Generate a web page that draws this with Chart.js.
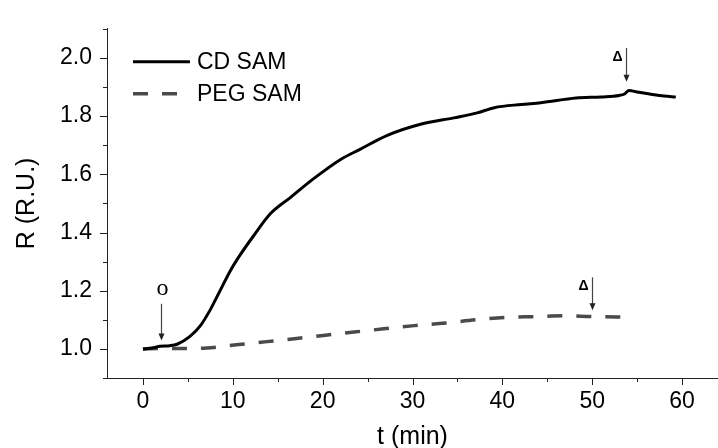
<!DOCTYPE html>
<html>
<head>
<meta charset="utf-8">
<script src="https://cdn.jsdelivr.net/npm/chart.js@4/dist/chart.umd.min.js"></script>
<style>
  html, body { margin: 0; padding: 0; background: #fff; }
  #wrap { width: 718px; height: 448px; position: relative; }
</style>
</head>
<body>
<div id="wrap"><canvas id="kineticsChart"></canvas></div>
<script>
// CD SAM trace (time in min, response in R.U.)
const cdTime = [0, 1, 1.9, 3, 3.8, 5.2, 6.4, 7.5, 8.6, 9.7, 10.8, 12.3, 14.2, 16.4, 19.0, 22.0, 24.1, 27.2, 30.9, 34.6, 37.2, 39.1, 42.1, 44.3, 48.2, 51.0, 53.0, 53.6, 54.1, 55.0, 56.4, 58.0, 59.3];
const cdSignal = [1.000, 1.003, 1.009, 1.011, 1.016, 1.042, 1.080, 1.135, 1.201, 1.267, 1.322, 1.388, 1.465, 1.520, 1.585, 1.651, 1.685, 1.734, 1.772, 1.794, 1.811, 1.829, 1.840, 1.846, 1.862, 1.866, 1.871, 1.876, 1.888, 1.883, 1.876, 1.869, 1.866];

// PEG SAM trace
const pegTime = [0, 2, 4.1, 7.1, 10.4, 13.8, 17.1, 20.3, 23.5, 26.8, 30.2, 33.7, 37.0, 40.4, 43.7, 46.7, 50.0, 53.8];
const pegSignal = [1.000, 1.001, 1.001, 1.003, 1.014, 1.025, 1.036, 1.047, 1.058, 1.069, 1.080, 1.089, 1.100, 1.108, 1.111, 1.114, 1.111, 1.109];

const seriesLabels = ['CD SAM', 'PEG SAM'];

// tick positions (labelled ones are every 10 min / every 0.2 R.U.)
const xTicks = [0, 5, 10, 15, 20, 25, 30, 35, 40, 45, 50, 55, 60];
const yTicks = [0.9, 1.0, 1.1, 1.2, 1.3, 1.4, 1.5, 1.6, 1.7, 1.8, 1.9, 2.0, 2.1];

// injection markers: label, time, arrow from / to (R.U.)
const markerLabels = ['o', '\u0394', '\u0394'];
const markerTime = [2, 53.75, 50];
const markerFrom = [1.155, 2.034, 1.246];
const markerTo = [1.029, 1.918, 1.133];

const FONT = '"Liberation Sans", Arial, sans-serif';

function toPoints(xs, ys) {
    return xs.map((x, i) => ({ x: x, y: ys[i] }));
}

function isMajorX(v) { return v % 10 === 0; }
function isMajorY(v) { return Math.round(v * 10) % 2 === 0; }

// minor/major tick marks drawn outside the axes
const tickMarks = {
    id: 'tickMarks',
    afterDraw(chart) {
        const ctx = chart.ctx;
        const xs = chart.scales.x, ys = chart.scales.y;
        const area = chart.chartArea;
        ctx.save();
        ctx.strokeStyle = '#222';
        ctx.lineWidth = 1;
        ctx.beginPath();
        xs.ticks.forEach(t => {
            const px = Math.round(xs.getPixelForValue(t.value)) + 0.5;
            ctx.moveTo(px, area.bottom);
            ctx.lineTo(px, area.bottom + (isMajorX(t.value) ? 7 : 4));
        });
        ys.ticks.forEach(t => {
            const py = Math.round(ys.getPixelForValue(t.value)) + 0.5;
            ctx.moveTo(area.left, py);
            ctx.lineTo(area.left - (isMajorY(t.value) ? 7 : 4), py);
        });
        ctx.stroke();
        ctx.restore();
    }
};

// legend in the upper left of the plot
const insideLegend = {
    id: 'insideLegend',
    afterDraw(chart) {
        const ctx = chart.ctx;
        const area = chart.chartArea;
        ctx.save();
        chart.data.datasets.forEach((ds, i) => {
            const y = area.top + 33 + i * 32;
            const x0 = area.left + 26;
            ctx.strokeStyle = ds.borderColor;
            ctx.lineWidth = ds.borderWidth;
            ctx.setLineDash(ds.borderDash || []);
            ctx.beginPath();
            ctx.moveTo(x0, y);
            ctx.lineTo(x0 + 57, y);
            ctx.stroke();
            ctx.setLineDash([]);
            ctx.fillStyle = '#000';
            ctx.font = '23px ' + FONT;
            ctx.textBaseline = 'middle';
            ctx.textAlign = 'left';
            ctx.fillText(ds.label, x0 + 64, y + 1);
        });
        ctx.restore();
    }
};

// arrows with labels
const arrowMarkers = {
    id: 'arrowMarkers',
    afterDatasetsDraw(chart) {
        const ctx = chart.ctx;
        const xs = chart.scales.x, ys = chart.scales.y;
        ctx.save();
        markerLabels.forEach((lbl, i) => {
            const px = Math.round(xs.getPixelForValue(markerTime[i])) + 0.5;
            const y0 = ys.getPixelForValue(markerFrom[i]);
            const y1 = ys.getPixelForValue(markerTo[i]);
            ctx.strokeStyle = '#444';
            ctx.fillStyle = '#222';
            ctx.lineWidth = 1.2;
            ctx.beginPath();
            ctx.moveTo(px, y0);
            ctx.lineTo(px, y1 - 6);
            ctx.stroke();
            ctx.beginPath();
            ctx.moveTo(px - 3, y1 - 7);
            ctx.lineTo(px + 3, y1 - 7);
            ctx.lineTo(px, y1);
            ctx.closePath();
            ctx.fill();
            ctx.fillStyle = '#000';
            ctx.textBaseline = 'middle';
            if (lbl === 'o') {
                ctx.font = '24px "Liberation Serif", "Times New Roman", serif';
                ctx.textAlign = 'center';
                ctx.fillText(lbl, px + 1, y0 - 15);
            } else {
                ctx.font = 'bold 14px ' + FONT;
                ctx.textAlign = 'right';
                ctx.fillText(lbl, px - 4, y0 + 9);
            }
        });
        ctx.restore();
    }
};

const ctx = document.getElementById('kineticsChart').getContext('2d');

new Chart(ctx, {
    type: 'line',
    data: {
        datasets: [{
            label: seriesLabels[0],
            data: toPoints(cdTime, cdSignal),
            borderColor: '#000',
            borderWidth: 3,
            pointRadius: 0,
            cubicInterpolationMode: 'monotone',
            fill: false
        }, {
            label: seriesLabels[1],
            data: toPoints(pegTime, pegSignal),
            borderColor: '#4a4a4a',
            borderWidth: 3.5,
            borderDash: [15, 14],
            pointRadius: 0,
            cubicInterpolationMode: 'monotone',
            fill: false
        }]
    },
    options: {
        responsive: true,
        maintainAspectRatio: false,
        animation: false,
        layout: { padding: { left: 0, top: 14, right: 0, bottom: 0 } },
        plugins: {
            legend: { display: false },
            tooltip: { enabled: false }
        },
        scales: {
            x: {
                type: 'linear',
                min: -4,
                max: 64,
                afterBuildTicks: s => { s.ticks = xTicks.map(v => ({ value: v })); },
                afterFit: s => { s.height = 70; },
                grid: { display: true, drawOnChartArea: false, drawTicks: false },
                border: { display: true, color: '#222', width: 1 },
                ticks: {
                    padding: 10,
                    color: '#000',
                    font: { family: FONT, size: 23 },
                    autoSkip: false,
                    maxRotation: 0,
                    callback: v => (isMajorX(v) ? String(v) : '')
                },
                title: {
                    display: true,
                    text: 't (min)',
                    color: '#000',
                    font: { family: FONT, size: 25, lineHeight: 0.9 },
                    padding: { top: 0, bottom: 0 }
                }
            },
            y: {
                min: 0.9,
                max: 2.1,
                afterBuildTicks: s => { s.ticks = yTicks.map(v => ({ value: v })); },
                afterFit: s => { s.width = 107; },
                grid: { display: true, drawOnChartArea: false, drawTicks: false },
                border: { display: true, color: '#222', width: 1 },
                ticks: {
                    padding: 15,
                    color: '#000',
                    font: { family: FONT, size: 23 },
                    autoSkip: false,
                    callback: v => (isMajorY(v) ? v.toFixed(1) : '')
                },
                title: {
                    display: true,
                    text: 'R (R.U.)',
                    color: '#000',
                    font: { family: FONT, size: 25, lineHeight: 1 },
                    padding: { top: 15, bottom: 0 }
                }
            }
        }
    },
    plugins: [tickMarks, insideLegend, arrowMarkers]
});
</script>
</body>
</html>
